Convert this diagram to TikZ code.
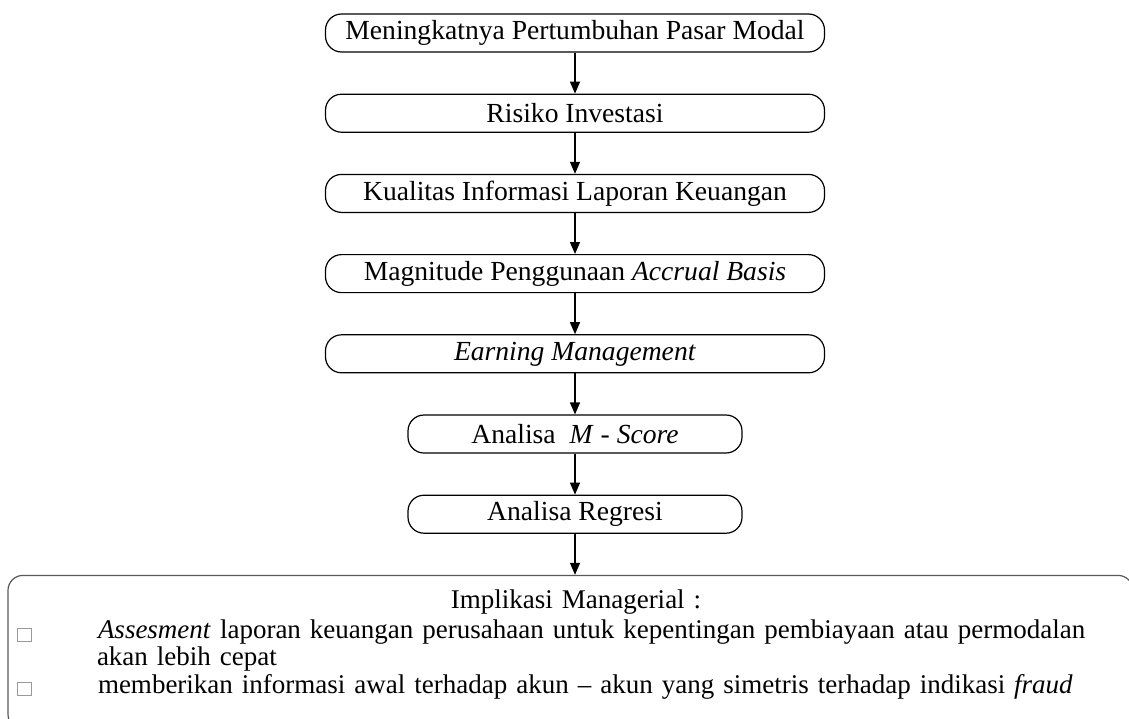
\documentclass[tikz,border=0pt]{standalone}
\usepackage{fontspec}
\setmainfont{Liberation Serif}
\usepackage{xcolor}
\usetikzlibrary{arrows.meta, positioning}
\newcommand{\kotak}{{\color{gray!80}\setlength{\fboxrule}{0.5pt}\setlength{\fboxsep}{0pt}\raisebox{-1pt}{\fbox{\rule{0pt}{6pt}\hspace{6.5pt}}}}}

\begin{document}
\begin{tikzpicture}[
  box/.style={rectangle, rounded corners=8pt, draw=black, line width=0.6pt,
              minimum width=249.5pt, minimum height=19pt, inner sep=0pt},
  kecil/.style={box, minimum width=167pt},
  arrow/.style={-{Triangle[length=6pt, width=5pt]}, line width=0.6pt},
  node distance=20.5pt,
  font=\fontsize{13.8pt}{13pt}\selectfont
]
  \useasboundingbox (0,0) rectangle (564.5pt,-359pt);
  \node[box] (pasar) at (287.5pt,-16.5pt) {Meningkatnya Pertumbuhan Pasar Modal};
  \node[box, below=of pasar] (risiko) {Risiko Investasi};
  \node[box, below=of risiko] (kualitas) {Kualitas Informasi Laporan Keuangan};
  \node[box, below=of kualitas] (akrual) {Magnitude Penggunaan \textit{Accrual Basis}};
  \node[box, below=of akrual] (earning) {\textit{Earning Management}};
  \node[kecil, below=of earning] (mscore) {Analisa\ \ \textit{M} - \textit{Score}};
  \node[kecil, below=of mscore] (regresi) {Analisa Regresi};
  \node[box, below=of regresi, xshift=-2.25pt, draw=black!65, rounded corners=7.5pt,
        minimum width=562.5pt, minimum height=77pt, text width=562.5pt, align=left,
        font=\fontsize{13.5pt}{13.6pt}\selectfont]
    (implikasi)
    {\makebox[\linewidth]{\hspace*{5.5pt}Implikasi Managerial :}\\[1.5pt]
     \hspace*{4.5pt}\kotak\hspace*{33pt}\textit{Assesment} laporan keuangan perusahaan untuk kepentingan pembiayaan atau permodalan\\
     \hspace*{44.5pt}akan lebih cepat\\
     \hspace*{4.5pt}\kotak\hspace*{33pt}memberikan informasi awal terhadap akun -- akun yang simetris terhadap indikasi \textit{fraud}\rule[-11pt]{0pt}{0pt}};
  \draw[arrow] (pasar) -- (risiko);
  \draw[arrow] (risiko) -- (kualitas);
  \draw[arrow] (kualitas) -- (akrual);
  \draw[arrow] (akrual) -- (earning);
  \draw[arrow] (earning) -- (mscore);
  \draw[arrow] (mscore) -- (regresi);
  \draw[arrow] (regresi.south) -- (regresi.south |- implikasi.north);
\end{tikzpicture}
\end{document}
